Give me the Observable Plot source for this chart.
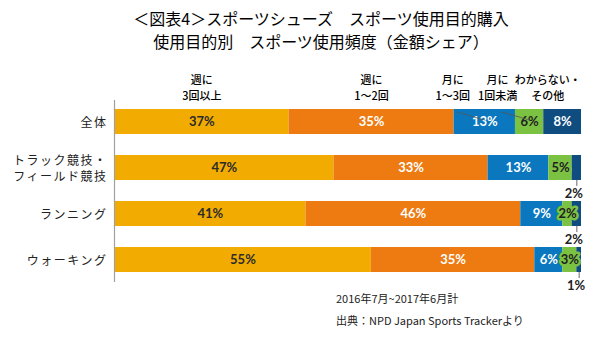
<!DOCTYPE html>
<html><head><meta charset="utf-8">
<script src="https://cdn.jsdelivr.net/npm/d3@7"></script>
<script src="https://cdn.jsdelivr.net/npm/@observablehq/plot@0.6"></script>
<style>
body{margin:0;background:#fff;width:600px;height:338px;overflow:hidden;font-family:"Noto Sans CJK JP",sans-serif;position:relative}
#title{height:60px;box-sizing:border-box;padding-top:7px;padding-left:42px;text-align:center;font-size:16px;line-height:23px;color:#000}
#chart{height:232px}
#footer{position:absolute;left:336px;top:287px;font-size:11px;line-height:22px;color:#222}
</style></head>
<body>
<div id="title">＜図表4＞スポーツシューズ　スポーツ使用目的購入<br>使用目的別　スポーツ使用頻度（金額シェア）</div>
<div id="chart"></div>
<div id="footer">2016年7月~2017年6月計<br>出典：NPD Japan Sports Trackerより</div>
<script>
// ---- data ----
const categories = ["全体", "トラック競技・\nフィールド競技", "ランニング", "ウォーキング"];
const seriesNames = ["週に3回以上", "週に1～2回", "月に1～3回", "月に1回未満", "わからない・その他"];
const headerLabels = ["週に\n3回以上", "週に\n1～2回", "月に\n1～3回", "月に\n1回未満", "わからない・\nその他"];
const weekly3plus   = [37, 47, 41, 55];
const weekly1to2    = [35, 33, 46, 35];
const monthly1to3   = [13, 13, 9, 6];
const monthlyUnder1 = [6, 5, 2, 3];
const unknownOther  = [8, 2, 2, 1];
const colors     = ["#F2AB00", "#EE7A12", "#0A77BE", "#7CC242", "#0F4C7F"];
const textColors = ["#2b2b2b", "#ffffff", "#ffffff", "#222222", "#ffffff"];

// ---- layout ----
const W = 600, H = 232, mL = 114, mR = 19, mT = 40, mB = 10;
const plotW = W - mL - mR;
const headerShiftPx = [0, 0, -32, -32, -15];

const seriesValues = [weekly3plus, weekly1to2, monthly1to3, monthlyUnder1, unknownOther];
const table = [];
categories.forEach((cat, i) => {
  seriesValues.forEach((vals, j) => table.push({cat, series: j, name: seriesNames[j], value: vals[i]}));
});
const isSmall = d => d.series === 4 && d.value < 5;

// header positions from the first row's stacking
const row0 = seriesValues.map(v => v[0]);
const total0 = d3.sum(row0);
let cum = 0;
const header = row0.map((v, j) => {
  const mid = (cum + v / 2) / total0;
  cum += v;
  return {text: headerLabels[j], mid, x: mid + headerShiftPx[j] / plotW};
});
const leaders = [2, 3].map(j => ({x1: header[j].x + 4 / plotW, x2: header[j].mid}));

const stackOpts = {x: "value", y: "cat", z: "series", offset: "normalize"};

const chart = Plot.plot({
  width: W, height: H,
  marginLeft: mL, marginRight: mR, marginTop: mT, marginBottom: mB,
  x: {axis: null, domain: [0, 1]},
  y: {axis: null, domain: categories, paddingInner: 0.4565, paddingOuter: 0.2065},
  style: {fontFamily: "'Noto Sans CJK JP', sans-serif", background: "#fff"},
  marks: [
    Plot.barX(table, Plot.stackX({...stackOpts, fill: d => colors[d.series]})),
    Plot.ruleX([0], {stroke: "#a0a0a0", strokeWidth: 1.2}),
    Plot.text(table, Plot.stackX({...stackOpts,
      text: d => isSmall(d) ? "" : d.value + "%",
      fill: d => textColors[d.series],
      stroke: d => colors[d.series], strokeWidth: 5,
      fontSize: 13, fontWeight: "bold", fontFamily: "Lato"})),
    Plot.tickX(table, Plot.stackX({...stackOpts,
      stroke: "#444", strokeWidth: 0.8,
      strokeOpacity: d => isSmall(d) ? 1 : 0,
      insetTop: 0, insetBottom: 19, dy: 25})),
    Plot.text(table, Plot.stackX({...stackOpts,
      text: d => isSmall(d) ? d.value + "%" : "",
      dy: 26, dx: -3, fill: "#222",
      fontSize: 13, fontWeight: "bold", fontFamily: "Lato"})),
    Plot.text(header, {x: "x", text: "text", frameAnchor: "top", lineAnchor: "bottom",
      dy: -1, fontSize: 11, lineHeight: 1.45, fill: "#000", fontWeight: 500}),
    Plot.link(leaders, {x1: "x1", x2: "x2",
      y1: {value: () => 39, scale: null}, y2: {value: () => 47, scale: null},
      stroke: "#555", strokeWidth: 0.8}),
    Plot.text(categories, {y: d => d, text: d => d, frameAnchor: "left", textAnchor: "end",
      dx: -7, fontSize: 12, lineHeight: 1.35, fill: "#222"})
  ]
});
document.getElementById("chart").appendChild(chart);
// letter-spacing for row labels (last text mark)
const textGroups = chart.querySelectorAll('g[aria-label="text"]');
textGroups[textGroups.length - 1].setAttribute("letter-spacing", "1.5");
</script>
</body></html>
